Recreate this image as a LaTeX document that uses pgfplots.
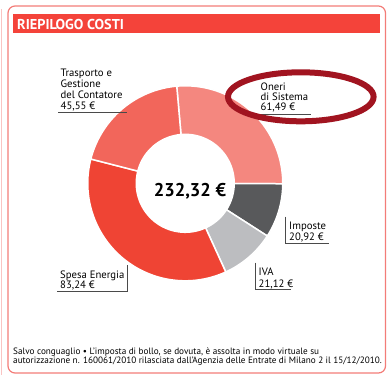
\documentclass[border=0pt]{standalone}
\usepackage{fontspec}
\setmainfont{PT Sans}
\usepackage{pgfplots}
\usepackage{pgfplotstable}
\pgfplotsset{compat=1.18}
\definecolor{cOneri}{HTML}{F4877F}
\definecolor{cTrasp}{HTML}{F2665B}
\definecolor{cSpesa}{HTML}{EF4434}
\definecolor{cImposte}{HTML}{58595B}
\definecolor{cIVA}{HTML}{BCBDC0}
\definecolor{cTitle}{HTML}{F4433A}
\definecolor{cFrame}{HTML}{F37C78}
\definecolor{cEllipse}{HTML}{A11420}
\definecolor{cLine}{HTML}{4A4A4A}
\pgfplotstableread{
name value
Oneri 61.49
Imposte 20.92
IVA 21.12
Spesa 83.24
Trasporto 45.55
}\costi
\begin{document}
\begin{tikzpicture}[x=1pt,y=1pt]
\useasboundingbox (0,0) rectangle (388,-375);
\pgfplotstablegetelem{0}{value}\of\costi \let\vA\pgfplotsretval
\pgfplotstablegetelem{1}{value}\of\costi \let\vB\pgfplotsretval
\pgfplotstablegetelem{2}{value}\of\costi \let\vC\pgfplotsretval
\pgfplotstablegetelem{3}{value}\of\costi \let\vD\pgfplotsretval
\pgfplotstablegetelem{4}{value}\of\costi \let\vE\pgfplotsretval
\pgfmathsetmacro\total{\vA+\vB+\vC+\vD+\vE}
\pgfmathsetmacro\aO{95}
\pgfmathsetmacro\aA{\aO-360*(\vA/\total)}
\pgfmathsetmacro\aB{\aA-360*(\vB/\total)}
\pgfmathsetmacro\aC{\aB-360*(\vC/\total)}
\pgfmathsetmacro\aD{\aC-360*(\vD/\total)}
\pgfmathsetmacro\aE{\aD-360*(\vE/\total)}
% frame
\draw[cFrame!45, line width=0.8pt] (1,-9) -- (1,-375);
\draw[cFrame, line width=1.2pt, rounded corners=7pt] (8,-6) rectangle (385.5,-373);
\fill[cTitle] (13,-14) rectangle (380,-33);
\node[anchor=base west, inner sep=0pt, text=white, font=\fontsize{14.3}{16}\selectfont\bfseries] at (17,-29.3) {RIEPILOGO COSTI};
\begin{axis}[at={(190,-188)}, anchor=center, scale only axis, width=195pt, height=195pt,
  xmin=-1, xmax=1, ymin=-1, ymax=1, hide axis, clip=false]
\addplot[fill=cOneri, draw=white, line width=1.5pt, domain=\aA:\aO, samples=80, variable=\t] ({cos(\t)},{sin(\t)}) -- (axis cs:0,0) -- cycle;
\addplot[fill=cImposte, draw=white, line width=1.5pt, domain=\aB:\aA, samples=40, variable=\t] ({cos(\t)},{sin(\t)}) -- (axis cs:0,0) -- cycle;
\addplot[fill=cIVA, draw=white, line width=1.5pt, domain=\aC:\aB, samples=40, variable=\t] ({cos(\t)},{sin(\t)}) -- (axis cs:0,0) -- cycle;
\addplot[fill=cSpesa, draw=white, line width=1.5pt, domain=\aD:\aC, samples=100, variable=\t] ({cos(\t)},{sin(\t)}) -- (axis cs:0,0) -- cycle;
\addplot[fill=cTrasp, draw=white, line width=1.5pt, domain=\aE:\aD, samples=60, variable=\t] ({cos(\t)},{sin(\t)}) -- (axis cs:0,0) -- cycle;
\addplot[fill=white, draw=none, domain=0:360, samples=120, variable=\t] ({0.51*cos(\t)},{0.51*sin(\t)}) -- cycle;
\end{axis}
\node[font=\fontsize{18.5}{20}\selectfont\bfseries, inner sep=0pt, anchor=base] at (190,-196.5) {232,32 €};
% labels
\begin{scope}[every node/.style={anchor=base west, inner sep=0pt, font=\fontsize{10.7}{11}\selectfont}]
\node at (60.5,-76.7) {Trasporto e};
\node at (60.5,-87.7) {Gestione};
\node at (60.5,-98.7) {del Contatore};
\node at (60.5,-109.5) {45,55 €};
\node at (260.5,-90) {Oneri};
\node at (260.5,-100.3) {di Sistema};
\node at (260.5,-110.7) {61,49 €};
\node at (289,-229) {Imposte};
\node at (289,-240.7) {20,92 €};
\node at (258.5,-275.7) {IVA};
\node at (258.5,-287.3) {21,12 €};
\node at (60,-278.3) {Spesa Energia};
\node at (60,-288.3) {83,24 €};
\end{scope}
\draw[cLine, line width=0.9pt] (58,-112.5) -- (127,-112.5);
\draw[cLine, line width=0.9pt] (259,-114.3) -- (311,-114.3);
\draw[cLine, line width=0.9pt] (285.7,-216.7) -- (285.7,-243.3) -- (329,-243.3);
\draw[cLine, line width=0.9pt] (255.7,-262.7) -- (255.7,-289.3) -- (291,-289.3);
\draw[cLine, line width=0.9pt] (57.3,-291.7) -- (127.3,-291.7) -- (127.3,-265);
\draw[cEllipse, line width=6pt] (300.8,-96.8) ellipse [x radius=72.8, y radius=24.5];
% footnote
\begin{scope}[every node/.style={anchor=base west, inner sep=0pt, font=\fontsize{9.2}{9}\selectfont}]
\node at (13,-354.7) {Salvo conguaglio • L'imposta di bollo, se dovuta, è assolta in modo virtuale su};
\node at (13,-363.5) {autorizzazione n. 160061/2010 rilasciata dall'Agenzia delle Entrate di Milano 2 il 15/12/2010.};
\end{scope}
\end{tikzpicture}
\end{document}
